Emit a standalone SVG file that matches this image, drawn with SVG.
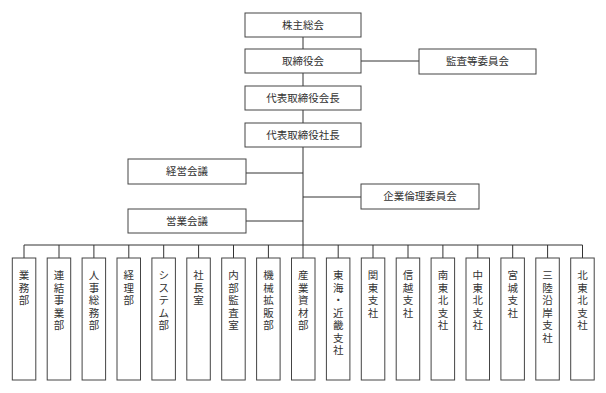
<svg xmlns="http://www.w3.org/2000/svg" width="606" height="393" viewBox="0 0 606 393">
<style>
.b{fill:#fff;stroke:#444;stroke-width:1}
.c{stroke:#333;stroke-width:1;fill:none}
.t{font-family:"Liberation Serif","Noto Sans CJK JP",serif;font-size:10.5px;fill:#333;text-anchor:middle;dominant-baseline:central}
</style>
<rect width="606" height="393" fill="#fff"/>
<g id="connectors">
<line class="c" x1="303" y1="37" x2="303" y2="258"/>
<line class="c" x1="361" y1="61" x2="419" y2="61" stroke="#777"/>
<line class="c" x1="246" y1="173" x2="303" y2="173"/>
<line class="c" x1="303" y1="197" x2="361" y2="197"/>
<line class="c" x1="246" y1="221" x2="303" y2="221"/>
<line class="c" x1="24" y1="245" x2="582.5" y2="245"/>
<path class="c" d="M24 245V258M59 245V258M93.9 245V258M128.8 245V258M163.7 245V258M198.6 245V258M233.5 245V258M268.4 245V258M338.2 245V258M373 245V258M408 245V258M442.9 245V258M477.8 245V258M512.7 245V258M547.6 245V258M582.5 245V258"/>
</g>
<g id="n-kabunushi"><rect class="b" x="245" y="13" width="116" height="24"/><text class="t" x="303" y="25">株主総会</text></g>
<g id="n-torishimariyaku"><rect class="b" x="245" y="49" width="116" height="24"/><text class="t" x="303" y="61">取締役会</text></g>
<g id="n-kansa"><rect class="b" x="419" y="49" width="117" height="25"/><text class="t" x="477.5" y="61.5">監査等委員会</text></g>
<g id="n-kaicho"><rect class="b" x="245" y="86" width="116" height="24"/><text class="t" x="303" y="98">代表取締役会長</text></g>
<g id="n-shacho"><rect class="b" x="245" y="123" width="116" height="24"/><text class="t" x="303" y="135">代表取締役社長</text></g>
<g id="n-keiei"><rect class="b" x="128" y="159" width="118" height="25"/><text class="t" x="187" y="171.5">経営会議</text></g>
<g id="n-rinri"><rect class="b" x="361" y="184" width="118" height="25"/><text class="t" x="420" y="196.5">企業倫理委員会</text></g>
<g id="n-eigyo"><rect class="b" x="128" y="209" width="118" height="24"/><text class="t" x="187" y="221">営業会議</text></g>
<g id="d0"><rect class="b" x="12.3" y="258" width="23.5" height="122"/><text class="t" x="24" y="275"><tspan x="24">業</tspan><tspan x="24" dy="12.5">務</tspan><tspan x="24" dy="12.5">部</tspan></text></g>
<g id="d1"><rect class="b" x="47.2" y="258" width="23.5" height="122"/><text class="t" x="59" y="275"><tspan x="59">連</tspan><tspan x="59" dy="12.5">結</tspan><tspan x="59" dy="12.5">事</tspan><tspan x="59" dy="12.5">業</tspan><tspan x="59" dy="12.5">部</tspan></text></g>
<g id="d2"><rect class="b" x="82.1" y="258" width="23.5" height="122"/><text class="t" x="93.9" y="275"><tspan x="93.9">人</tspan><tspan x="93.9" dy="12.5">事</tspan><tspan x="93.9" dy="12.5">総</tspan><tspan x="93.9" dy="12.5">務</tspan><tspan x="93.9" dy="12.5">部</tspan></text></g>
<g id="d3"><rect class="b" x="117" y="258" width="23.5" height="122"/><text class="t" x="128.8" y="275"><tspan x="128.8">経</tspan><tspan x="128.8" dy="12.5">理</tspan><tspan x="128.8" dy="12.5">部</tspan></text></g>
<g id="d4"><rect class="b" x="151.9" y="258" width="23.5" height="122"/><text class="t" x="163.7" y="275"><tspan x="163.7">シ</tspan><tspan x="163.7" dy="12.5">ス</tspan><tspan x="163.7" dy="12.5">テ</tspan><tspan x="163.7" dy="12.5">ム</tspan><tspan x="163.7" dy="12.5">部</tspan></text></g>
<g id="d5"><rect class="b" x="186.8" y="258" width="23.5" height="122"/><text class="t" x="198.6" y="275"><tspan x="198.6">社</tspan><tspan x="198.6" dy="12.5">長</tspan><tspan x="198.6" dy="12.5">室</tspan></text></g>
<g id="d6"><rect class="b" x="221.7" y="258" width="23.5" height="122"/><text class="t" x="233.5" y="275"><tspan x="233.5">内</tspan><tspan x="233.5" dy="12.5">部</tspan><tspan x="233.5" dy="12.5">監</tspan><tspan x="233.5" dy="12.5">査</tspan><tspan x="233.5" dy="12.5">室</tspan></text></g>
<g id="d7"><rect class="b" x="256.6" y="258" width="23.5" height="122"/><text class="t" x="268.4" y="275"><tspan x="268.4">機</tspan><tspan x="268.4" dy="12.5">械</tspan><tspan x="268.4" dy="12.5">拡</tspan><tspan x="268.4" dy="12.5">販</tspan><tspan x="268.4" dy="12.5">部</tspan></text></g>
<g id="d8"><rect class="b" x="291.5" y="258" width="23.5" height="122"/><text class="t" x="303.3" y="275"><tspan x="303.3">産</tspan><tspan x="303.3" dy="12.5">業</tspan><tspan x="303.3" dy="12.5">資</tspan><tspan x="303.3" dy="12.5">材</tspan><tspan x="303.3" dy="12.5">部</tspan></text></g>
<g id="d9"><rect class="b" x="326.4" y="258" width="23.5" height="122"/><text class="t" x="338.2" y="275"><tspan x="338.2">東</tspan><tspan x="338.2" dy="12.5">海</tspan><tspan x="338.2" dy="12.5">・</tspan><tspan x="338.2" dy="12.5">近</tspan><tspan x="338.2" dy="12.5">畿</tspan><tspan x="338.2" dy="12.5">支</tspan><tspan x="338.2" dy="12.5">社</tspan></text></g>
<g id="d10"><rect class="b" x="361.3" y="258" width="23.5" height="122"/><text class="t" x="373" y="275"><tspan x="373">関</tspan><tspan x="373" dy="12.5">東</tspan><tspan x="373" dy="12.5">支</tspan><tspan x="373" dy="12.5">社</tspan></text></g>
<g id="d11"><rect class="b" x="396.2" y="258" width="23.5" height="122"/><text class="t" x="408" y="275"><tspan x="408">信</tspan><tspan x="408" dy="12.5">越</tspan><tspan x="408" dy="12.5">支</tspan><tspan x="408" dy="12.5">社</tspan></text></g>
<g id="d12"><rect class="b" x="431.1" y="258" width="23.5" height="122"/><text class="t" x="442.9" y="275"><tspan x="442.9">南</tspan><tspan x="442.9" dy="12.5">東</tspan><tspan x="442.9" dy="12.5">北</tspan><tspan x="442.9" dy="12.5">支</tspan><tspan x="442.9" dy="12.5">社</tspan></text></g>
<g id="d13"><rect class="b" x="466" y="258" width="23.5" height="122"/><text class="t" x="477.8" y="275"><tspan x="477.8">中</tspan><tspan x="477.8" dy="12.5">東</tspan><tspan x="477.8" dy="12.5">北</tspan><tspan x="477.8" dy="12.5">支</tspan><tspan x="477.8" dy="12.5">社</tspan></text></g>
<g id="d14"><rect class="b" x="500.9" y="258" width="23.5" height="122"/><text class="t" x="512.7" y="275"><tspan x="512.7">宮</tspan><tspan x="512.7" dy="12.5">城</tspan><tspan x="512.7" dy="12.5">支</tspan><tspan x="512.7" dy="12.5">社</tspan></text></g>
<g id="d15"><rect class="b" x="535.8" y="258" width="23.5" height="122"/><text class="t" x="547.6" y="275"><tspan x="547.6">三</tspan><tspan x="547.6" dy="12.5">陸</tspan><tspan x="547.6" dy="12.5">沿</tspan><tspan x="547.6" dy="12.5">岸</tspan><tspan x="547.6" dy="12.5">支</tspan><tspan x="547.6" dy="12.5">社</tspan></text></g>
<g id="d16"><rect class="b" x="570.7" y="258" width="23.5" height="122"/><text class="t" x="582.5" y="275"><tspan x="582.5">北</tspan><tspan x="582.5" dy="12.5">東</tspan><tspan x="582.5" dy="12.5">北</tspan><tspan x="582.5" dy="12.5">支</tspan><tspan x="582.5" dy="12.5">社</tspan></text></g>
</svg>
